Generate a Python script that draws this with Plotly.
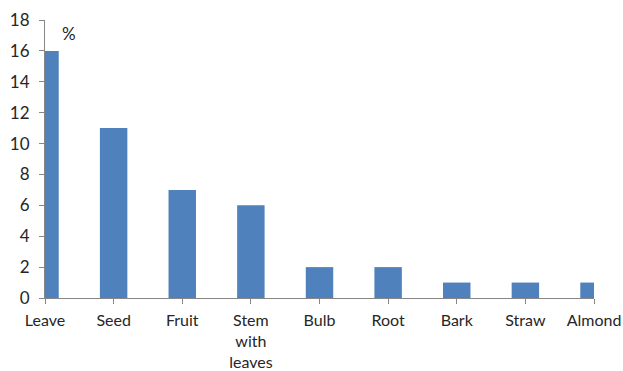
import plotly.graph_objects as go

categories = ["Leave", "Seed", "Fruit", "Stem<br>with<br>leaves", "Bulb", "Root", "Bark", "Straw", "Almond"]
values = [16, 11, 7, 6, 2, 2, 1, 1, 1]
y_ticks = list(range(0, 19, 2))

axis_color = "#868686"
text_color = "#262626"
font_family = "Lato, 'Liberation Sans', Arial, sans-serif"

fig = go.Figure(
    go.Bar(
        x=categories,
        y=values,
        width=0.4,
        marker=dict(color="#4F81BD", line=dict(width=0)),
    )
)

fig.update_layout(
    width=623,
    height=371,
    margin=dict(l=45, r=29, t=20, b=73),
    plot_bgcolor="white",
    paper_bgcolor="white",
    showlegend=False,
    font=dict(family=font_family, size=16, color=text_color),
    annotations=[
        dict(
            text="%", xref="paper", yref="paper", x=0.028, y=0.953,
            xanchor="left", yanchor="middle", showarrow=False,
            font=dict(family=font_family, size=17, color=text_color),
        )
    ],
)

fig.update_xaxes(
    type="category",
    range=[0, len(categories) - 1],
    automargin=False,
    showline=True, linecolor=axis_color, linewidth=1,
    ticks="outside", ticklen=5, tickcolor=axis_color,
    ticklabelstandoff=3,
    showgrid=False, zeroline=False,
    tickfont=dict(size=16, color=text_color),
)

fig.update_yaxes(
    range=[0, 18],
    tickvals=y_ticks,
    automargin=False,
    showline=True, linecolor=axis_color, linewidth=1,
    ticks="outside", ticklen=5, tickcolor=axis_color,
    ticklabelstandoff=6,
    showgrid=False, zeroline=False,
    tickfont=dict(size=17, color=text_color),
)

fig.write_html("out.html")
